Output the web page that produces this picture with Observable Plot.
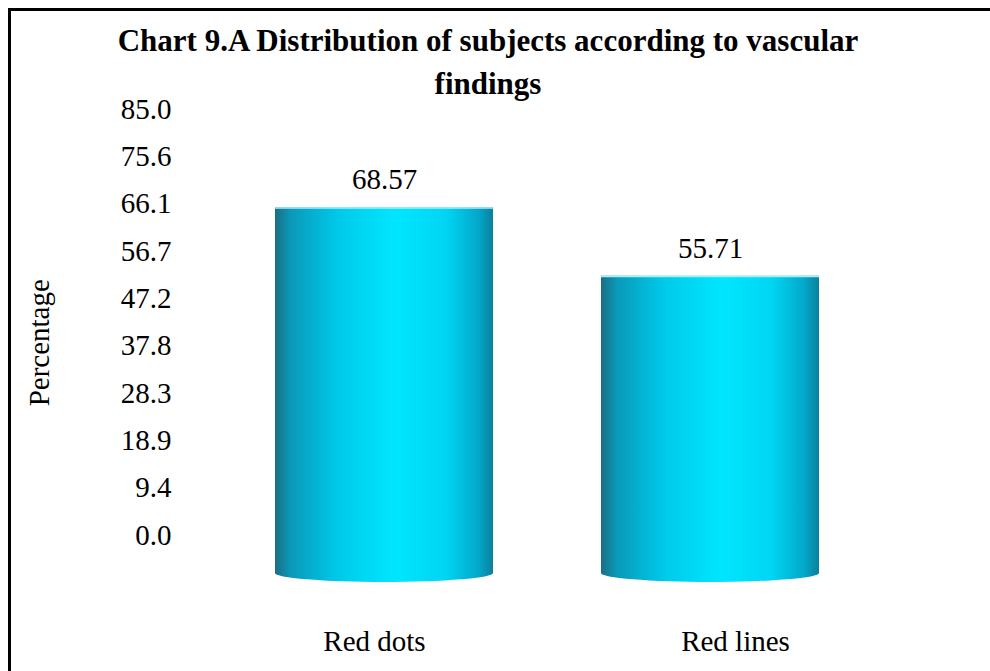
<!DOCTYPE html>
<html><head><meta charset="utf-8">
<script src="https://cdn.jsdelivr.net/npm/d3@7"></script>
<script src="https://cdn.jsdelivr.net/npm/@observablehq/plot@0.6"></script>
<style>
html,body{margin:0;padding:0;background:#fff;}
#wrap{position:relative;width:990px;height:671px;overflow:hidden;background:#fff;font-family:"Liberation Serif","Times New Roman",serif;}
#frame{position:absolute;left:8px;top:8px;right:-10px;bottom:-10px;border-top:3px solid #000;border-left:3px solid #000;}
#title{position:absolute;left:0;width:976px;top:19px;text-align:center;font-weight:bold;font-size:31px;line-height:43px;color:#000;z-index:3;}
.layer{position:absolute;left:0;top:0;}
</style></head><body>
<div id="wrap"><div id="frame"></div><div id="title">Chart 9.A Distribution of subjects according to vascular<br>findings</div></div>
<script>
const categories = ["Red dots", "Red lines"];
const values = [68.57, 55.71];
const yDomain = [0, 85];
const tickValues = [0, 9.444, 18.889, 28.333, 37.778, 47.222, 56.667, 66.111, 75.556, 85];
const yLabel = "Percentage";

const data = categories.map((c, i) => ({category: c, value: values[i]}));
const font = '"Liberation Serif","Times New Roman",serif';
const wrap = document.getElementById("wrap");

// Axis layer (tick labels and category labels)
const axes = Plot.plot({
  width: 990, height: 671,
  marginTop: 109, marginBottom: 136, marginLeft: 180, marginRight: 0,
  x: {type: "point", domain: categories, range: [373.5, 735], padding: 0, tickSize: 0, tickPadding: 95, label: null},
  y: {domain: yDomain, ticks: tickValues, tickFormat: d => d.toFixed(1), tickSize: 0, tickPadding: 9, label: null},
  style: {background: "transparent", fontFamily: font, fontSize: "29px", color: "#000", overflow: "visible"},
  marks: [
    Plot.dot(data, {x: "category", y: "value", r: 0})
  ]
});
axes.classList.add("layer");
wrap.appendChild(axes);

// Bar layer (cylinders, value labels, y title)
const bars = Plot.plot({
  width: 990, height: 671,
  marginTop: 119.5, marginBottom: 98, marginLeft: 0, marginRight: 0,
  x: {domain: categories, range: [275, 819.5], paddingInner: 0.332, paddingOuter: 0, axis: null},
  y: {domain: yDomain, axis: null},
  style: {background: "transparent", fontFamily: font, overflow: "visible"},
  marks: [
    Plot.barY(data, {x: "category", y: "value", fill: "#00d0f0"}),
    Plot.text(data, {x: "category", y: "value", text: d => d.value.toFixed(2), dy: -28, fontSize: 29, fill: "#000"}),
    Plot.text([yLabel], {text: d => d, frameAnchor: "left", textAnchor: "middle", dx: 39, dy: -4, rotate: -90, fontSize: 29, fill: "#000"})
  ]
});
bars.classList.add("layer");
wrap.appendChild(bars);

// cylinder shading
const svg = d3.select(bars);
const grad = svg.insert("defs", ":first-child").append("linearGradient")
  .attr("id", "cyl").attr("x1", 0).attr("x2", 1).attr("y1", 0).attr("y2", 0);
[[0, "#1b6e83"], [0.07, "#0a98b8"], [0.28, "#00c8e8"], [0.55, "#00e6ff"], [0.78, "#00d6f4"], [0.93, "#03a9cb"], [1, "#0b809d"]]
  .forEach(([o, c]) => grad.append("stop").attr("offset", o).attr("stop-color", c));

svg.selectAll('g[aria-label="bar"] rect').each(function() {
  const r = d3.select(this);
  const x = +r.attr("x"), y = +r.attr("y"), w = +r.attr("width"), h = +r.attr("height");
  const ry = 9;
  const parent = this.parentNode;
  const body = document.createElementNS("http://www.w3.org/2000/svg", "path");
  body.setAttribute("d", `M${x},${y}H${x + w}V${y + h}A${w / 2},${ry} 0 0 1 ${x},${y + h}Z`);
  body.setAttribute("fill", "url(#cyl)");
  parent.insertBefore(body, this);
  const top = document.createElementNS("http://www.w3.org/2000/svg", "path");
  top.setAttribute("d", `M${x},${y + 0.75}H${x + w}`);
  top.setAttribute("stroke", "#a6eefc");
  top.setAttribute("stroke-width", 1.5);
  top.setAttribute("fill", "none");
  parent.insertBefore(top, this);
  this.remove();
});
</script>
</body></html>
